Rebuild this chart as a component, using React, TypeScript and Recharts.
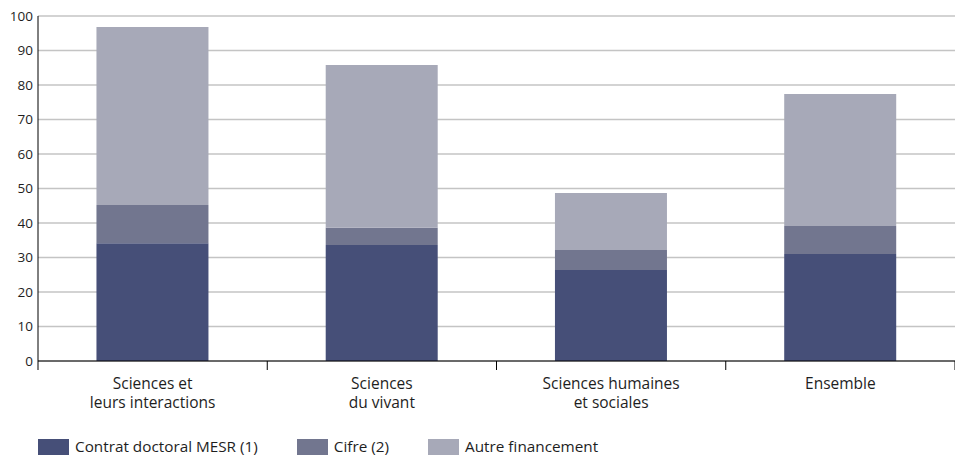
import { BarChart, Bar, XAxis, YAxis, CartesianGrid } from 'recharts'

const categories = ['Sciences et\nleurs interactions', 'Sciences\ndu vivant', 'Sciences humaines\net sociales', 'Ensemble']
const contratMesr = [34.1, 33.6, 26.4, 31.0]
const cifre = [11.1, 5.0, 5.8, 8.1]
const autre = [51.6, 47.2, 16.5, 38.3]
const yTicks = [0, 10, 20, 30, 40, 50, 60, 70, 80, 90, 100]

const series = [
  { key: 'contrat', name: 'Contrat doctoral MESR (1)', color: '#464f78' },
  { key: 'cifre', name: 'Cifre (2)', color: '#72768f' },
  { key: 'autre', name: 'Autre financement', color: '#a7a9b8' },
]

const data = categories.map((c, i) => ({
  name: c,
  contrat: contratMesr[i],
  cifre: cifre[i],
  autre: autre[i],
}))

const FONT = '"Open Sans", Lato, sans-serif'

// category label on two lines + small tick marks on the band boundaries
function CategoryTick({ x, y, payload, width, visibleTicksCount, index }: any) {
  const lines = String(payload.value).split('\n')
  const count = visibleTicksCount || categories.length
  const band = (Number(width) || 917) / count
  const left = x - band / 2
  const right = x + band / 2
  return (
    <g>
      <line x1={left} x2={left} y1={y} y2={y + 9} stroke="#000" />
      {index === count - 1 && <line x1={right} x2={right} y1={y} y2={y + 9} stroke="#000" />}
      <text x={x} y={y} textAnchor="middle" fill="#1e1e1e" fontSize={15.5} fontFamily={FONT}>
        {lines.map((l, i) => (
          <tspan key={i} x={x} dy={i === 0 ? 28 : 19}>
            {l}
          </tspan>
        ))}
      </text>
    </g>
  )
}

export default function App() {
  return (
    <div style={{ position: 'absolute', left: 0, top: 0, width: 955, height: 455, background: '#fff', overflow: 'hidden' }}>
      <BarChart
        width={955}
        height={455}
        data={data}
        margin={{ top: 16, right: 0, left: 0, bottom: 44 }}
        barCategoryGap="25.5%"
      >
        <CartesianGrid horizontal vertical={false} stroke="#c4c4c4" strokeWidth={1.5} />
        <XAxis
          dataKey="name"
          axisLine={{ stroke: '#000' }}
          tickLine={false}
          tickSize={0}
          tickMargin={0}
          tick={<CategoryTick />}
          interval={0}
          height={50}
        />
        <YAxis
          domain={[0, 100]}
          ticks={yTicks}
          width={38}
          axisLine={{ stroke: '#000' }}
          tickLine={false}
          tickSize={5}
          tickMargin={0}
          tick={{ fill: '#1e1e1e', fontSize: 13.5, fontFamily: FONT }}
          interval={0}
        />
        {series.map((s) => (
          <Bar
            key={s.key}
            dataKey={s.key}
            name={s.name}
            stackId="a"
            fill={s.color}
            isAnimationActive={false}
          />
        ))}
      </BarChart>
      <div
        style={{
          position: 'absolute',
          left: 38,
          top: 438,
          display: 'flex',
          alignItems: 'flex-start',
          fontFamily: FONT,
          fontSize: 15.3,
          lineHeight: '17px',
          color: '#1e1e1e',
          whiteSpace: 'nowrap',
        }}
      >
        {series.map((s) => (
          <div key={s.key} style={{ display: 'flex', alignItems: 'flex-start', marginRight: 39 }}>
            <span style={{ width: 31, height: 17, marginTop: 1, background: s.color, display: 'inline-block', marginRight: 6 }} />
            <span>{s.name}</span>
          </div>
        ))}
      </div>
    </div>
  )
}
